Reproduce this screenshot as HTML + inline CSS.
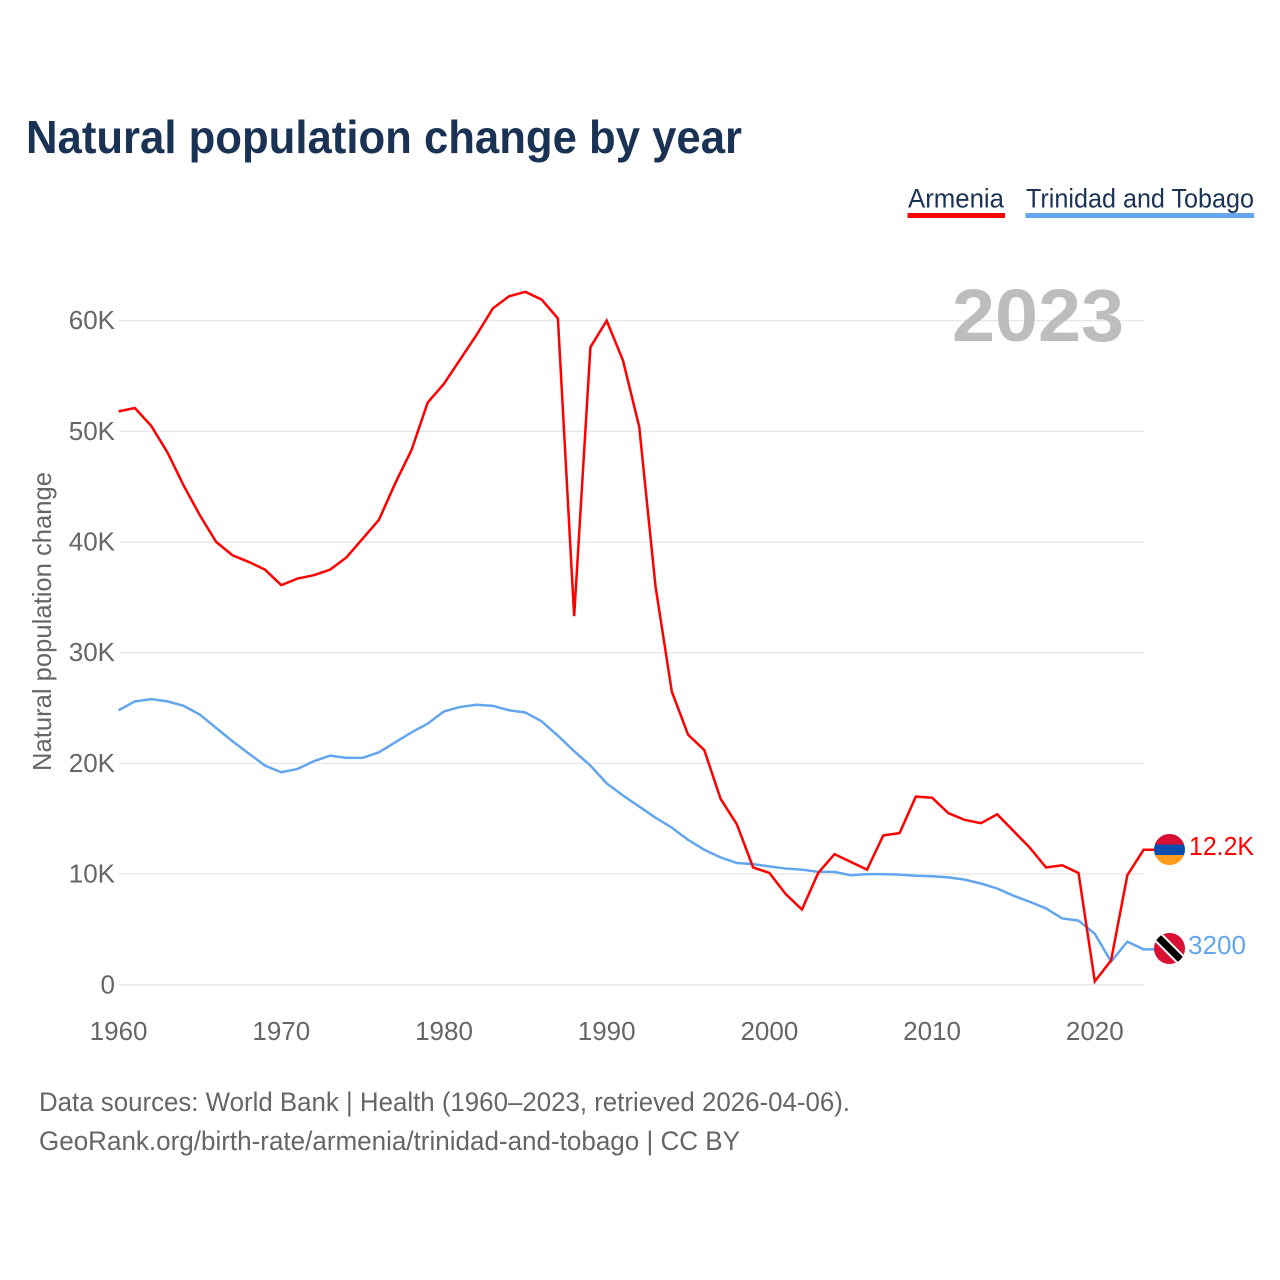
<!DOCTYPE html>
<html lang="en">
<head>
<meta charset="utf-8">
<title>Natural population change by year</title>
<style>
html,body{margin:0;padding:0;background:#fff;width:1280px;height:1280px;overflow:hidden}
svg{display:block;font-family:"Liberation Sans",sans-serif}
</style>
</head>
<body>
<svg id="chart" xmlns="http://www.w3.org/2000/svg" width="1280" height="1280" viewBox="0 0 1280 1280">
  <rect x="0" y="0" width="1280" height="1280" fill="#fff"/>
  <text x="26" y="153" font-size="46" font-weight="700" fill="#1a3354" textLength="716" lengthAdjust="spacingAndGlyphs">Natural population change by year</text>

  <g>
    <text x="908" y="207.5" font-size="27" fill="#1a3354" textLength="96" lengthAdjust="spacingAndGlyphs">Armenia</text>
    <rect x="907.5" y="213" width="97.5" height="5" fill="#ff0000"/>
  </g>
  <g>
    <text x="1026" y="207.5" font-size="27" fill="#1a3354" textLength="228" lengthAdjust="spacingAndGlyphs">Trinidad and Tobago</text>
    <rect x="1025.5" y="213" width="228.5" height="5" fill="#63a6ee"/>
  </g>

  <g id="grid"></g>
  <g id="yticks"></g>
  <g id="xticks"></g>

  <text x="1124" y="341" text-anchor="end" font-size="74" font-weight="700" fill="#bdbdbd" textLength="172" lengthAdjust="spacingAndGlyphs">2023</text>

  <text transform="translate(51,621.5) rotate(-90)" text-anchor="middle" font-size="26" fill="#666" textLength="299" lengthAdjust="spacingAndGlyphs">Natural population change</text>

  <g id="series"></g>

  <defs>
    <clipPath id="flag-clip-am"><circle cx="1169.5" cy="849.5" r="15.5"/></clipPath>
    <clipPath id="flag-clip-tt"><circle cx="1169.5" cy="948.5" r="15.5"/></clipPath>
  </defs>
  <g clip-path="url(#flag-clip-am)">
    <rect x="1154" y="834" width="31" height="10.5" fill="#d90f33"/>
    <rect x="1154" y="844.5" width="31" height="10.5" fill="#0a4fb0"/>
    <rect x="1154" y="855" width="31" height="10" fill="#ff9a1a"/>
  </g>
  <g clip-path="url(#flag-clip-tt)">
    <rect x="1154" y="933" width="31" height="31" fill="#d90f33"/>
    <line x1="1154" y1="933" x2="1185" y2="964" stroke="#fff" stroke-width="11"/>
    <line x1="1154" y1="933" x2="1185" y2="964" stroke="#000" stroke-width="7"/>
  </g>
  <text x="1189" y="855" font-size="26" fill="#ff0000" textLength="65" lengthAdjust="spacingAndGlyphs">12.2K</text>
  <text x="1188" y="954" font-size="26" fill="#63a6ee" textLength="58" lengthAdjust="spacingAndGlyphs">3200</text>

  <text x="39" y="1111" font-size="27" fill="#666" textLength="811" lengthAdjust="spacingAndGlyphs">Data sources: World Bank | Health (1960–2023, retrieved 2026-04-06).</text>
  <text x="39" y="1150" font-size="27" fill="#666" textLength="701" lengthAdjust="spacingAndGlyphs">GeoRank.org/birth-rate/armenia/trinidad-and-tobago | CC BY</text>
</svg>
<script>
const startYear = 1960;
const armeniaValues = [51800,52100,50500,48100,45100,42400,40000,38800,38200,37500,36100,36700,37000,37500,38600,40300,42000,45300,48300,52600,54300,56500,58700,61100,62200,62600,61900,60200,33300,57600,60000,56400,50400,36000,26500,22600,21200,16800,14500,10600,10100,8200,6800,10100,11800,11100,10400,13500,13700,17000,16900,15500,14900,14600,15400,13900,12400,10600,10800,10100,300,2200,9900,12200];
const trinidadValues = [24800,25600,25800,25600,25200,24400,23200,22000,20900,19800,19200,19500,20200,20700,20500,20500,21000,21900,22800,23600,24700,25100,25300,25200,24800,24600,23800,22500,21100,19800,18200,17100,16100,15100,14200,13100,12200,11500,11000,10900,10700,10500,10400,10200,10200,9900,10000,10000,9950,9850,9800,9700,9500,9150,8700,8050,7500,6900,6000,5800,4600,2100,3900,3200];
const yTickValues = [0,10000,20000,30000,40000,50000,60000];
const yTickLabels = ["0","10K","20K","30K","40K","50K","60K"];
const xTickYears = [1960,1970,1980,1990,2000,2010,2020];

const NS = "http://www.w3.org/2000/svg";
function xScale(year){ return 118.6 + (year - 1960) * 16.27; }
function yScale(v){ return 984.8 - v * 0.01107; }
function make(tag, attrs, parent){
  const el = document.createElementNS(NS, tag);
  for (const k in attrs) el.setAttribute(k, attrs[k]);
  parent.appendChild(el);
  return el;
}

const grid = document.getElementById("grid");
const yticks = document.getElementById("yticks");
yTickValues.forEach(function(v, i){
  const gl = make("line", {x1:119, x2:1144, y1:yScale(v), y2:yScale(v), stroke:"#e8e8e8", "stroke-width":1.4}, grid);
  
  
  const t = make("text", {x:115, y:yScale(v)+8.5, "text-anchor":"end", "font-size":26, fill:"#666"}, yticks);
  
  
  t.textContent = yTickLabels[i];
});

const xticks = document.getElementById("xticks");
xTickYears.forEach(function(y){
  const t = make("text", {x:xScale(y), y:1040, "text-anchor":"middle", "font-size":26, fill:"#666"}, xticks);
  
  
  t.textContent = String(y);
});

const seriesGroup = document.getElementById("series");
function drawSeries(values, color, name){
  const pts = values.map(function(v, i){ return xScale(startYear + i).toFixed(2) + "," + yScale(v).toFixed(2); });
  const lastY = yScale(values[values.length - 1]);
  const lastX = xScale(startYear + values.length - 1);
  pts.push((lastX + 11).toFixed(2) + "," + lastY.toFixed(2));
  const line = make("polyline", {points:pts.join(" "), fill:"none", stroke:color, "stroke-width":2.5, "stroke-linejoin":"miter"}, seriesGroup);
  
  
}
drawSeries(trinidadValues, "#63a6ee", "series-line-trinidad-and-tobago");
drawSeries(armeniaValues, "#ff0000", "series-line-armenia");
</script>
</body>
</html>
